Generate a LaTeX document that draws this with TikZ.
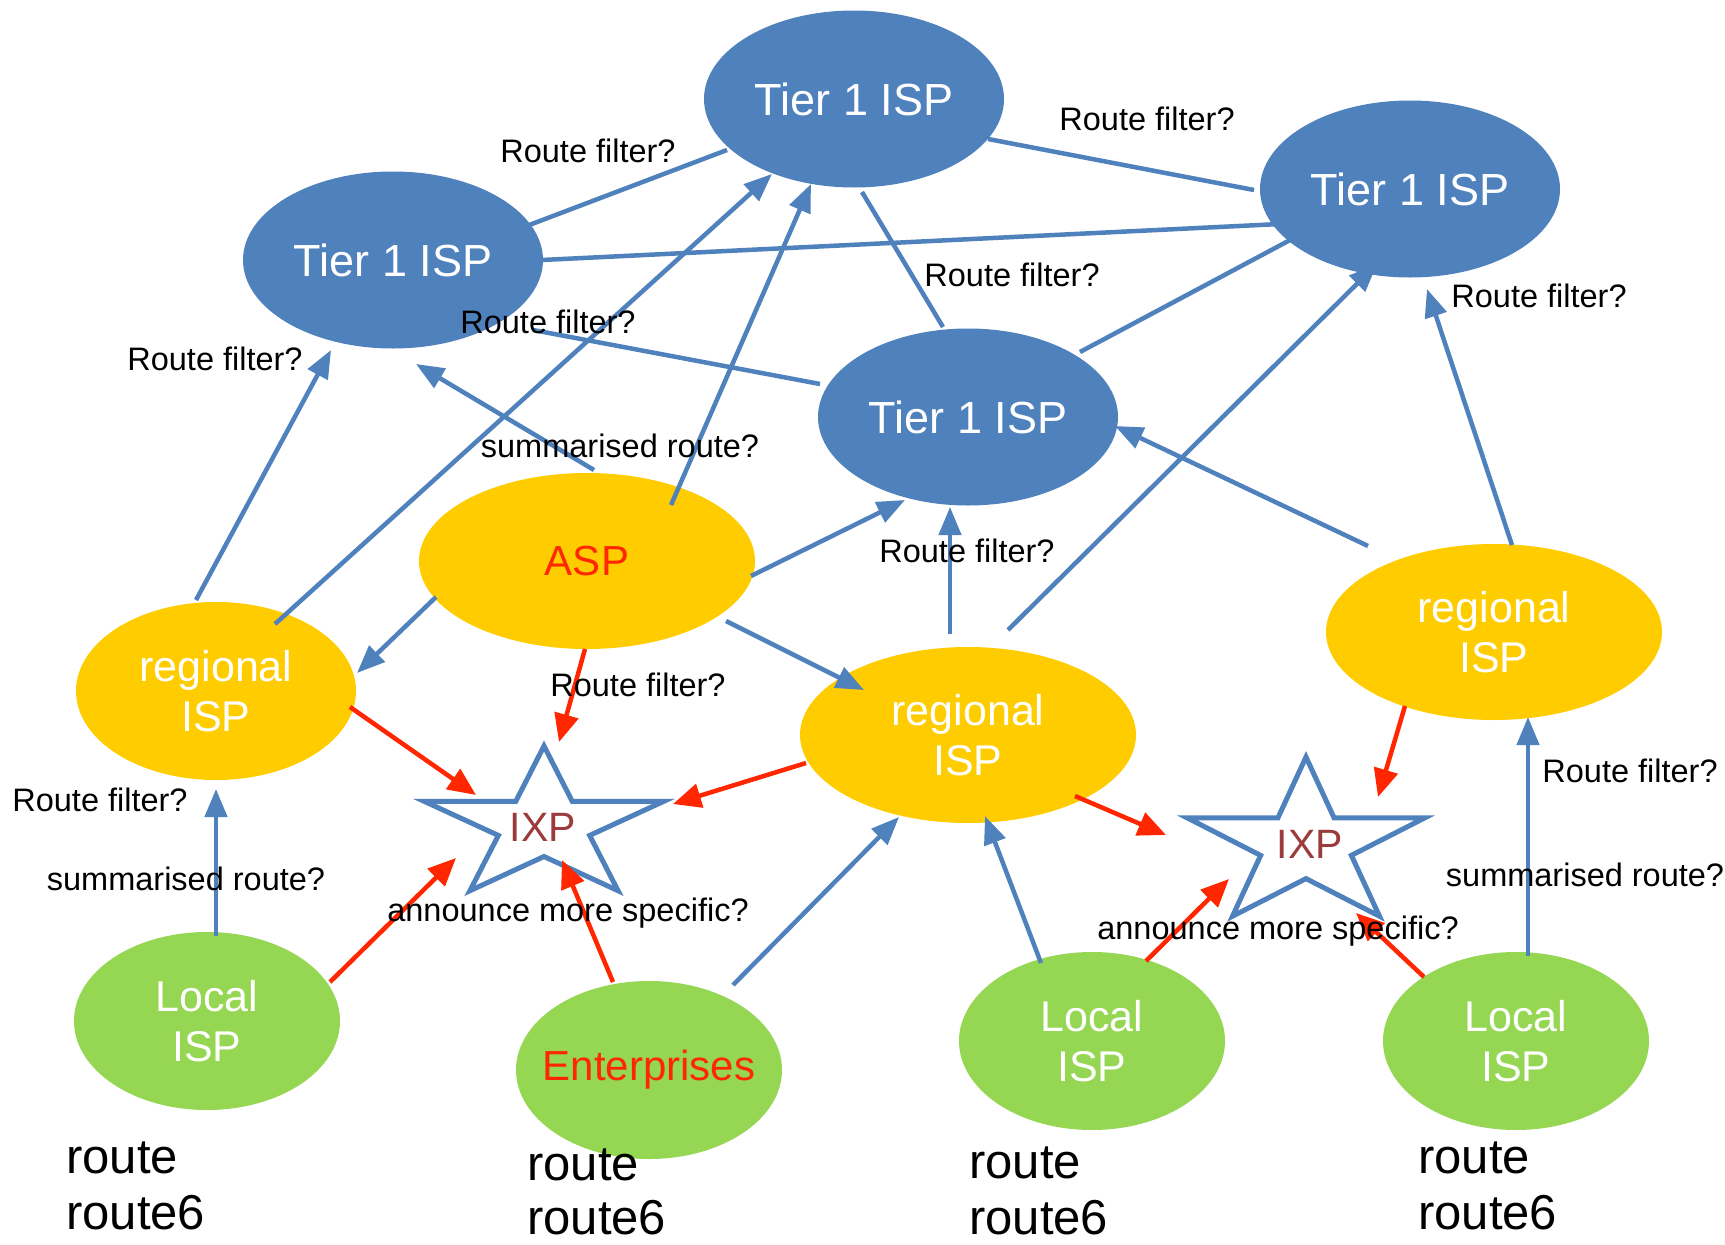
\documentclass[tikz,border=0pt]{standalone}
\usepackage{fontspec}
\setmainfont{Liberation Sans}
\usetikzlibrary{shapes.geometric,arrows.meta,calc}
\definecolor{tblue}{HTML}{4F81BD}
\definecolor{tyellow}{HTML}{FFCC00}
\definecolor{tgreen}{HTML}{95D653}
\definecolor{tred}{HTML}{FF2600}
\definecolor{ixpred}{HTML}{9B3B3B}
\newcommand\ixpshape[5]{%
  \draw[starline] ($(#1)+(90:#2pt and #3pt)$)
    -- ($(#1)+(54:#4pt and #5pt)$)
    -- ($(#1)+(18:#2pt and #3pt)$)
    -- ($(#1)+(342:#4pt and #5pt)$)
    -- ($(#1)+(306:#2pt and #3pt)$)
    -- ($(#1)+(270:#4pt and #5pt)$)
    -- ($(#1)+(234:#2pt and #3pt)$)
    -- ($(#1)+(198:#4pt and #5pt)$)
    -- ($(#1)+(162:#2pt and #3pt)$)
    -- ($(#1)+(126:#4pt and #5pt)$)
    -- cycle;}
\begin{document}
\begin{tikzpicture}[x=1pt,y=-1pt,
  blob/.style={ellipse, inner sep=0pt, draw=none},
  tone/.style={blob, fill=tblue, minimum width=300pt, minimum height=177pt},
  ryel/.style={blob, fill=tyellow},
  lgreen/.style={blob, fill=tgreen, minimum width=266pt, minimum height=178pt},
  ntext/.style={font=\fontsize{43}{50}\selectfont, text=white, align=center},
  ttext/.style={font=\fontsize{45}{50}\selectfont, text=white},
  rtext/.style={font=\fontsize{42}{50}\selectfont, text=tred},
  lbl/.style={font=\fontsize{32.5}{38}\selectfont, inner sep=0pt},
  link/.style={draw=tblue, line width=4.5pt},
  barrow/.style={link, -{Triangle[length=28pt,width=22pt]}},
  rarrow/.style={draw=tred, line width=4.5pt, -{Triangle[length=28pt,width=24pt]}},
  starline/.style={draw=tblue, line width=5pt, fill=white, line join=miter},
  rt/.style={font=\fontsize{49}{56}\selectfont, anchor=base west, inner sep=0pt}
]
\useasboundingbox (0,0) rectangle (1725,1245);
\fill[white] (0,0) rectangle (1725,1245);

% Tier 1 ISPs
\node[tone, label={[ttext]center:Tier 1 ISP}] (t1top) at (854,99) {};
\node[tone, label={[ttext]center:Tier 1 ISP}] (t1L) at (393,260) {};
\node[tone, label={[ttext]center:Tier 1 ISP}] (t1R) at (1410,189) {};
\node[tone, label={[ttext]center:Tier 1 ISP}] (t1C) at (968,417) {};

% ASP and regional ISPs
\node[ryel, minimum width=336pt, minimum height=176pt, label={[rtext]center:ASP}] (asp) at (587,561) {};
\node[ryel, minimum width=280pt, minimum height=178pt, label={[ntext]center:{regional\\ISP}}] (regL) at (216,691) {};
\node[ryel, minimum width=336pt, minimum height=176pt, label={[ntext]center:{regional\\ISP}}] (regC) at (968,735) {};
\node[ryel, minimum width=336pt, minimum height=176pt, label={[ntext]center:{regional\\ISP}}] (regR) at (1494,632) {};

% Local ISPs and Enterprises
\node[lgreen, label={[ntext]center:{Local\\ISP}}] (locL) at (207,1021) {};
\node[lgreen, label={[rtext]center:Enterprises}] (ent) at (649,1070) {};
\node[lgreen, label={[ntext]center:{Local\\ISP}}] (locC) at (1092,1041) {};
\node[lgreen, label={[ntext]center:{Local\\ISP}}] (locR) at (1516,1041) {};

% IXPs
\coordinate (ixpL) at (544,826);
\coordinate (ixpR) at (1306,845);
\ixpshape{ixpL}{126}{80}{48}{30.5}
\ixpshape{ixpR}{125}{88}{47.7}{33.6}
\node[font=\fontsize{41}{48}\selectfont, text=ixpred] (ixpLt) at (543,827) {IXP};
\node[font=\fontsize{41}{48}\selectfont, text=ixpred] (ixpRt) at (1310,844) {IXP};

% Tier 1 peering links
\draw[link] ($(t1L)+(131,-33)$) -- ($(t1top)+(-127,51)$);
\draw[link] ($(t1L)+(149,0)$) -- ($(t1R)+(-130,35)$);
\draw[link] ($(t1L)+(140,70)$) -- ($(t1C)+(-148,-33)$);
\draw[link] ($(t1top)+(134,40)$) -- ($(t1R)+(-156,1)$);
\draw[link] ($(t1top)+(8,93)$) -- ($(t1C)+(-25,-90)$);
\draw[link] ($(t1C)+(112,-65)$) -- ($(t1R)+(-118,50)$);

% blue arrows
\draw[barrow] ($(regL)+(-20,-91)$) -- ($(t1L)+(-62,90)$);
\draw[barrow] ($(regL)+(59,-67)$) -- ($(t1top)+(-82,75)$);
\draw[barrow] ($(asp)+(7,-91)$) -- ($(t1L)+(23,104)$);
\draw[barrow] ($(asp)+(84,-56)$) -- ($(t1top)+(-43,85)$);
\draw[barrow] ($(asp)+(-151,36)$) -- ($(regL)+(141,-18)$);
\draw[barrow] ($(asp)+(164,15)$) -- ($(t1C)+(-63,83)$);
\draw[barrow] ($(asp)+(139,60)$) -- ($(regC)+(-104,-45)$);
\draw[barrow] ($(regC)+(-18,-101)$) -- ($(t1C)+(-18,90)$);
\draw[barrow] ($(regC)+(40,-105)$) -- ($(t1R)+(-33,75)$);
\draw[barrow] ($(regR)+(-126,-86)$) -- ($(t1C)+(147,9)$);
\draw[barrow] ($(regR)+(18,-87)$) -- ($(t1R)+(17,100)$);
\draw[barrow] ($(locL)+(9,-85)$) -- ($(regL)+(0,98)$);
\draw[barrow] ($(ent)+(84,-85)$) -- ($(regC)+(-69,82)$);
\draw[barrow] ($(locC)+(-51,-78)$) -- ($(regC)+(17,81)$);
\draw[barrow] ($(locR)+(12,-85)$) -- ($(regR)+(34,85)$);

% red arrows to the IXPs
\draw[rarrow] ($(regL)+(134,16)$) -- ($(ixpL)+(-68,-31)$);
\draw[rarrow] ($(asp)+(-2,88)$) -- ($(ixpL)+(15,-84)$);
\draw[rarrow] ($(regC)+(-162,28)$) -- ($(ixpL)+(129,-22)$);
\draw[rarrow] ($(locL)+(123,-39)$) -- ($(ixpL)+(-88,32)$);
\draw[rarrow] ($(ent)+(-36,-88)$) -- ($(ixpL)+(18,34)$);
\draw[rarrow] ($(regC)+(107,61)$) -- ($(ixpR)+(-140,-10)$);
\draw[rarrow] ($(regR)+(-89,74)$) -- ($(ixpR)+(72,-48)$);
\draw[rarrow] ($(locC)+(54,-80)$) -- ($(ixpR)+(-77,34)$);
\draw[rarrow] ($(locR)+(-92,-64)$) -- ($(ixpR)+(50,68)$);

% labels
\node[lbl] (lb1) at (588,151) {Route filter?};
\node[lbl] (lb2) at (1147,119) {Route filter?};
\node[lbl] (lb3) at (1012,275) {Route filter?};
\node[lbl] (lb4) at (548,322) {Route filter?};
\node[lbl] (lb5) at (215,359) {Route filter?};
\node[lbl] (ls1) at (620,446) {summarised route?};
\node[lbl] (lb6) at (1539,296) {Route filter?};
\node[lbl] (lb7) at (967,551) {Route filter?};
\node[lbl] (lb8) at (638,685) {Route filter?};
\node[lbl] (lb9) at (100,800) {Route filter?};
\node[lbl] (lb10) at (1630,771) {Route filter?};
\node[lbl] (ls2) at (186,879) {summarised route?};
\node[lbl] (ls3) at (1585,875) {summarised route?};
\node[lbl] (la1) at (568,913) {announce more specific?};
\node[lbl] (la2) at (1278,931) {announce more specific?};

% route objects
\node[rt] (r1a) at (66,1173) {route};
\node[rt] (r1b) at (66,1229) {route6};
\node[rt] (r2a) at (527,1180) {route};
\node[rt] (r2b) at (527,1234) {route6};
\node[rt] (r3a) at (969,1178) {route};
\node[rt] (r3b) at (969,1234) {route6};
\node[rt] (r4a) at (1418,1173) {route};
\node[rt] (r4b) at (1418,1229) {route6};
\end{tikzpicture}
\end{document}
